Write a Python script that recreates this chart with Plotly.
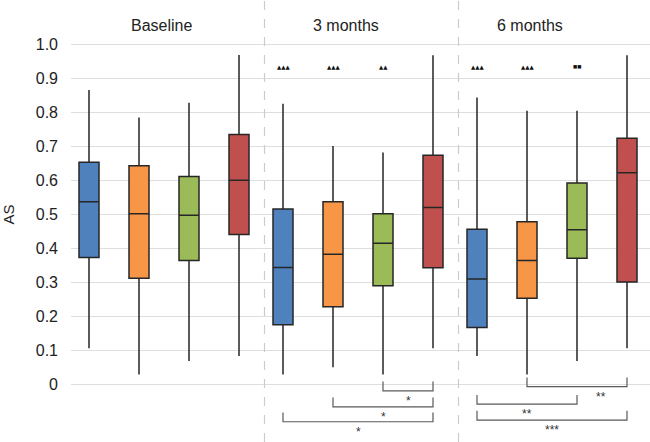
import plotly.graph_objects as go

# ---------------- data ----------------
groups = ["Baseline", "3 months", "6 months"]
series_colors = ["#4F81BD", "#F79646", "#9BBB59", "#C0504D"]

# per series: values for [Baseline, 3 months, 6 months]
lower = [[0.105, 0.028, 0.082],
         [0.028, 0.049, 0.028],
         [0.068, 0.028, 0.068],
         [0.082, 0.105, 0.105]]
q1 = [[0.372, 0.174, 0.166],
      [0.311, 0.227, 0.252],
      [0.363, 0.289, 0.370],
      [0.440, 0.342, 0.300]]
median = [[0.536, 0.343, 0.309],
          [0.501, 0.382, 0.363],
          [0.496, 0.414, 0.454],
          [0.599, 0.519, 0.621]]
q3 = [[0.652, 0.515, 0.455],
      [0.642, 0.536, 0.477],
      [0.610, 0.501, 0.591],
      [0.734, 0.673, 0.723]]
upper = [[0.865, 0.824, 0.843],
         [0.784, 0.700, 0.804],
         [0.827, 0.681, 0.804],
         [0.968, 0.967, 0.967]]

# significance symbols above boxes: (group, series, text, size)
sig_marks = [(1, 0, "▲▲▲", 5.5), (1, 1, "▲▲▲", 5.5), (1, 2, "▲▲", 5.5),
             (2, 0, "▲▲▲", 5.5), (2, 1, "▲▲▲", 5.5), (2, 2, "■■", 4.5)]
sig_mark_y = 0.933

# pairwise comparisons below: (group, series_a, series_b, label, bracket_top, label_shift)
comparisons = [(1, 2, 3, "*", 0.007, 0.0),
               (1, 1, 3, "*", -0.040, 0.0),
               (1, 0, 3, "*", -0.084, 0.0),
               (2, 1, 3, "**", 0.019, 0.48),
               (2, 0, 2, "**", -0.032, 0.0),
               (2, 0, 3, "***", -0.079, 0.0)]
bracket_h = 0.027

y_ticks = [0, 0.1, 0.2, 0.3, 0.4, 0.5, 0.6, 0.7, 0.8, 0.9, 1.0]
y_ticktext = ["0", "0.1", "0.2", "0.3", "0.4", "0.5", "0.6", "0.7", "0.8", "0.9", "1.0"]

# ---------------- layout helpers ----------------
G = 3.88  # spacing between group starts (in box units)


def xpos(g, i):
    return g * G + i


FONT = "Liberation Sans, Arial, sans-serif"
fig = go.Figure()

for s in range(4):
    fig.add_trace(go.Box(
        x=[xpos(g, s) for g in range(3)],
        lowerfence=lower[s], q1=q1[s], median=median[s], q3=q3[s], upperfence=upper[s],
        fillcolor=series_colors[s],
        line=dict(color="#262626", width=1.5),
        whiskerwidth=0, width=0.4, boxpoints=False,
        showlegend=False, hoverinfo="skip",
    ))

# brackets
for g, a, b, lab, top, shift in comparisons:
    xa, xb = xpos(g, a), xpos(g, b)
    fig.add_trace(go.Scatter(
        x=[xa, xa, xb, xb], y=[top, top - bracket_h, top - bracket_h, top],
        mode="lines", line=dict(color="#595959", width=1.2),
        showlegend=False, hoverinfo="skip",
    ))
    fig.add_annotation(x=(xa + xb) / 2 + shift, y=top - bracket_h - 0.004, text=lab,
                       showarrow=False, yanchor="top",
                       font=dict(family=FONT, size=12, color="#333333"))

# marks above boxes
for g, s, t, sz in sig_marks:
    fig.add_annotation(x=xpos(g, s), y=sig_mark_y, text=t, showarrow=False,
                       font=dict(family="DejaVu Sans", size=sz, color="#111111"))

# group titles
for g, name in enumerate(groups):
    fig.add_annotation(x=xpos(g, 0) + 1.45 - 0.2 * g, y=1.0, yref="paper", yshift=28,
                       xanchor="center", text=name, showarrow=False,
                       font=dict(family=FONT, size=16, color="#222222"))

# dashed separators
for g in range(1, 3):
    xs = (xpos(g - 1, 3) + xpos(g, 0)) / 2 + 0.07
    fig.add_shape(type="line", xref="x", yref="paper", x0=xs, x1=xs, y0=0, y1=1.12,
                  line=dict(color="#cccccc", width=1.2, dash="dash"))

# y axis title
fig.add_annotation(xref="paper", yref="y", x=-0.108, y=0.5, text="AS", textangle=-90,
                   xanchor="center", yanchor="middle",
                   showarrow=False, font=dict(family=FONT, size=15, color="#222222"))

fig.update_layout(
    width=650, height=442,
    margin=dict(l=71, r=0, t=43, b=0, autoexpand=False),
    paper_bgcolor="white", plot_bgcolor="white",
    font=dict(family=FONT, size=15, color="#222222"),
    xaxis=dict(range=[-0.36, 11.22], showticklabels=False, showgrid=False,
               zeroline=False, showline=False, ticks="", automargin=False),
    yaxis=dict(range=[-0.1706, 1.003], tickvals=y_ticks, ticktext=y_ticktext,
               showgrid=True, gridcolor="#dedede", gridwidth=1, zeroline=False,
               showline=False, ticks="", ticklabelstandoff=12, automargin=False,
               tickfont=dict(family=FONT, size=16, color="#222222")),
    boxmode="overlay",
)

fig.write_html("out.html", config={"displayModeBar": False},
               post_script="document.body.style.margin='0';document.body.style.overflow='hidden';")
